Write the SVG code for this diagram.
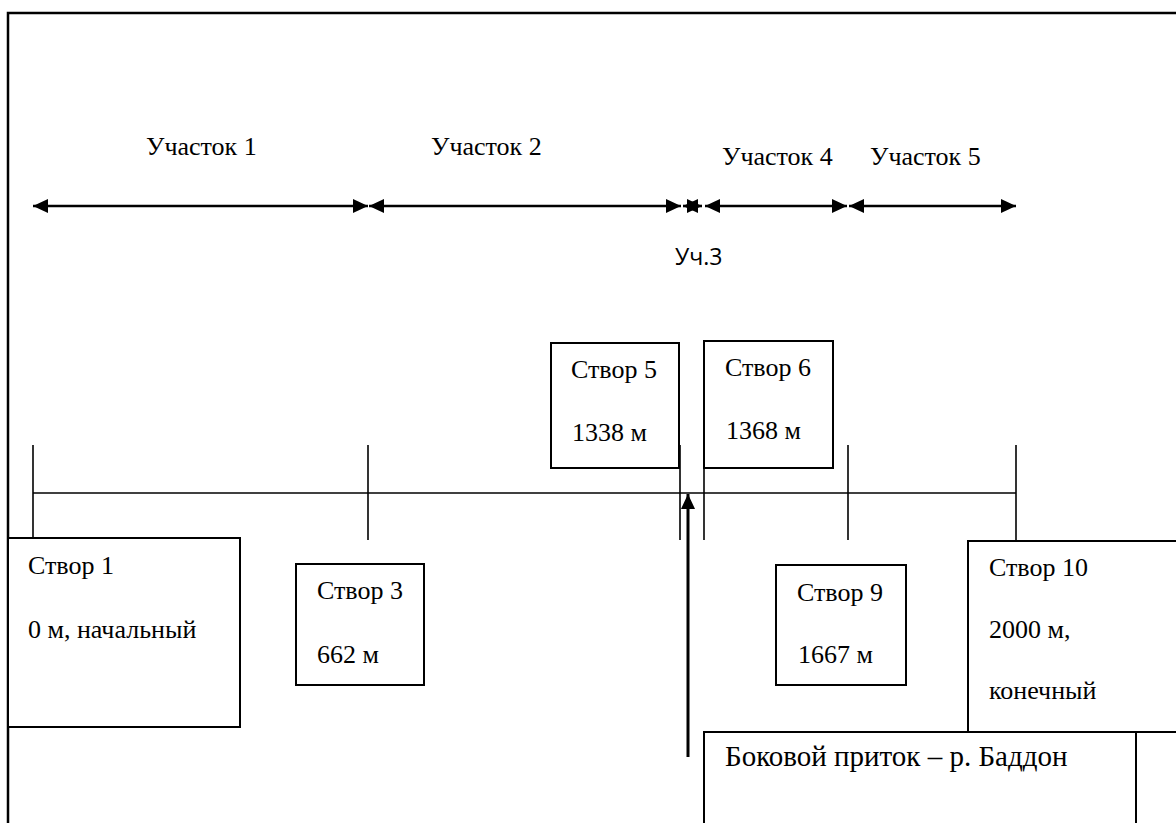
<svg xmlns="http://www.w3.org/2000/svg" width="1176" height="823" viewBox="0 0 1176 823">
<style>
.t{font-family:"Liberation Serif","Times New Roman",serif;font-size:26px;fill:#000}
.b{font-size:29px}
.s{font-family:"Open Sans","Liberation Sans",sans-serif;font-size:23px;fill:#000}
.box{fill:#fff;stroke:#000;stroke-width:2}
.ln{stroke:#000;stroke-width:1.6;fill:none}
.ar{stroke:#000;stroke-width:2.6;fill:none}
</style>
<defs>
<marker id="ah" viewBox="0 0 15 14" refX="15" refY="7" markerWidth="15" markerHeight="14" markerUnits="userSpaceOnUse" orient="auto-start-reverse">
<path d="M0,0 L15,7 L0,14 Z" fill="#000"/>
</marker>
</defs>
<rect width="1176" height="823" fill="#fff"/>
<g id="frame">
<path d="M8,823 V13 H1176" fill="none" stroke="#000" stroke-width="2.5"/>
</g>
<g id="connectors">
<line class="ar" x1="33" y1="206" x2="368" y2="206" marker-start="url(#ah)" marker-end="url(#ah)"/>
<line class="ar" x1="369" y1="206" x2="681" y2="206" marker-start="url(#ah)" marker-end="url(#ah)"/>
<line class="ar" x1="683" y1="206" x2="702" y2="206" marker-start="url(#ah)" marker-end="url(#ah)"/>
<line class="ar" x1="705" y1="206" x2="847" y2="206" marker-start="url(#ah)" marker-end="url(#ah)"/>
<line class="ar" x1="849" y1="206" x2="1016" y2="206" marker-start="url(#ah)" marker-end="url(#ah)"/>
<line class="ln" x1="33" y1="493" x2="1016" y2="493"/>
<line class="ln" x1="33" y1="445" x2="33" y2="538"/>
<line class="ln" x1="368" y1="445" x2="368" y2="540"/>
<line class="ln" x1="680" y1="445" x2="680" y2="540"/>
<line class="ln" x1="704" y1="445" x2="704" y2="540"/>
<line class="ln" x1="848" y1="445" x2="848" y2="540"/>
<line class="ln" x1="1016" y1="445" x2="1016" y2="540"/>
<line x1="688" y1="757" x2="688" y2="494" stroke="#000" stroke-width="3" marker-end="url(#ah)"/>
</g>
<g id="labels">
<text class="t" x="146" y="155">Участок 1</text>
<text class="t" x="431" y="155">Участок 2</text>
<text class="s" x="675" y="265">Уч.3</text>
<text class="t" x="722" y="165">Участок 4</text>
<text class="t" x="870" y="165">Участок 5</text>
</g>
<g id="stvor1">
<rect class="box" x="8" y="538" width="232" height="189"/>
<text class="t" x="28" y="574">Створ 1</text>
<text class="t" x="28" y="638">0 м, начальный</text>
</g>
<g id="stvor3">
<rect class="box" x="296" y="564" width="128" height="121"/>
<text class="t" x="317" y="599">Створ 3</text>
<text class="t" x="317" y="663">662 м</text>
</g>
<g id="stvor5">
<rect class="box" x="551" y="343" width="128" height="125"/>
<text class="t" x="571" y="378">Створ 5</text>
<text class="t" x="572" y="441">1338 м</text>
</g>
<g id="stvor6">
<rect class="box" x="704" y="341" width="129" height="127"/>
<text class="t" x="725" y="376">Створ 6</text>
<text class="t" x="726" y="439">1368 м</text>
</g>
<g id="stvor9">
<rect class="box" x="776" y="565" width="130" height="120"/>
<text class="t" x="797" y="601">Створ 9</text>
<text class="t" x="798" y="663">1667 м</text>
</g>
<g id="stvor10">
<rect class="box" x="968" y="541" width="220" height="191"/>
<text class="t" x="989" y="576">Створ 10</text>
<text class="t" x="989" y="638">2000 м,</text>
<text class="t" x="989" y="699">конечный</text>
</g>
<g id="pritok">
<rect class="box" x="704" y="732" width="432" height="110"/>
<text class="t b" x="725" y="766">Боковой приток – р. Баддон</text>
</g>
</svg>
